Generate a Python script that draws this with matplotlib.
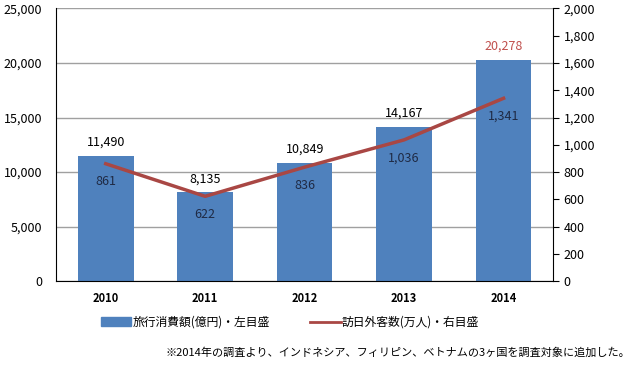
import matplotlib.pyplot as plt
from matplotlib.lines import Line2D
from matplotlib.patches import Patch

plt.rcParams['font.family'] = ['Noto Sans CJK JP', 'DejaVu Sans']

years = ['2010', '2011', '2012', '2013', '2014']
spending = [11490, 8135, 10849, 14167, 20278]   # 旅行消費額(億円)
visitors = [861, 622, 836, 1036, 1341]          # 訪日外客数(万人)
legend_labels = ['旅行消費額(億円)・左目盛', '訪日外客数(万人)・右目盛']

bar_color = '#4F81BD'
line_color = '#A94744'

fig = plt.figure(figsize=(6.4, 3.67), dpi=100)
ax = fig.add_axes([0.0875, 0.234, 0.777, 0.743])
ax2 = ax.twinx()

x = range(len(years))
ax.bar(x, spending, width=0.56, color=bar_color, zorder=2)
ax2.plot(x, visitors, color=line_color, linewidth=2.5)

ax.set_xlim(-0.5, 4.5)
ax.set_ylim(0, 25000)
ax2.set_ylim(0, 2000)
ax.set_yticks(range(0, 25001, 5000))
ax2.set_yticks(range(0, 2001, 200))
ax.yaxis.set_major_formatter(plt.FuncFormatter(lambda v, p: f'{int(v):,}'))
ax2.yaxis.set_major_formatter(plt.FuncFormatter(lambda v, p: f'{int(v):,}'))
ax.set_xticks(list(x))
ax.set_xticklabels(years, fontsize=8, fontweight='bold')

ax.grid(axis='y', color='#A0A0A0', linewidth=1, zorder=0)
ax.set_axisbelow(True)
for a in (ax, ax2):
    a.spines['top'].set_visible(False)
ax2.spines['left'].set_visible(False)
ax2.spines['bottom'].set_visible(False)
ax.spines['right'].set_visible(False)
ax.tick_params(axis='y', length=0, labelsize=9, pad=10)
ax.tick_params(axis='x', length=0, pad=8)
ax2.tick_params(axis='y', length=4, labelsize=9, direction='out')

# labels for bar values
for i, v in enumerate(spending):
    c = '#C0504D' if i == len(spending) - 1 else 'black'
    ax.annotate(f'{v:,}', (i, v), xytext=(0, 5), textcoords='offset points',
                ha='center', va='bottom', fontsize=9, color=c)

# labels for line values
for i, v in enumerate(visitors):
    ax2.annotate(f'{v:,}', (i, v), xytext=(0, -13), textcoords='offset points',
                 ha='center', va='center', fontsize=9, color='#1F2A44')

handles = [Patch(color=bar_color), Line2D([], [], color=line_color, lw=2)]
fig.legend(handles, legend_labels, loc='center', bbox_to_anchor=(0.453, 0.122),
           ncol=2, frameon=False, fontsize=8.5, columnspacing=3.4,
           handlelength=2.6, handletextpad=0.1)

fig.text(0.985, 0.04, '※2014年の調査より、インドネシア、フィリピン、ベトナムの3ヶ国を調査対象に追加した。',
         ha='right', va='center', fontsize=8)

fig.savefig('out.png', dpi=100)
